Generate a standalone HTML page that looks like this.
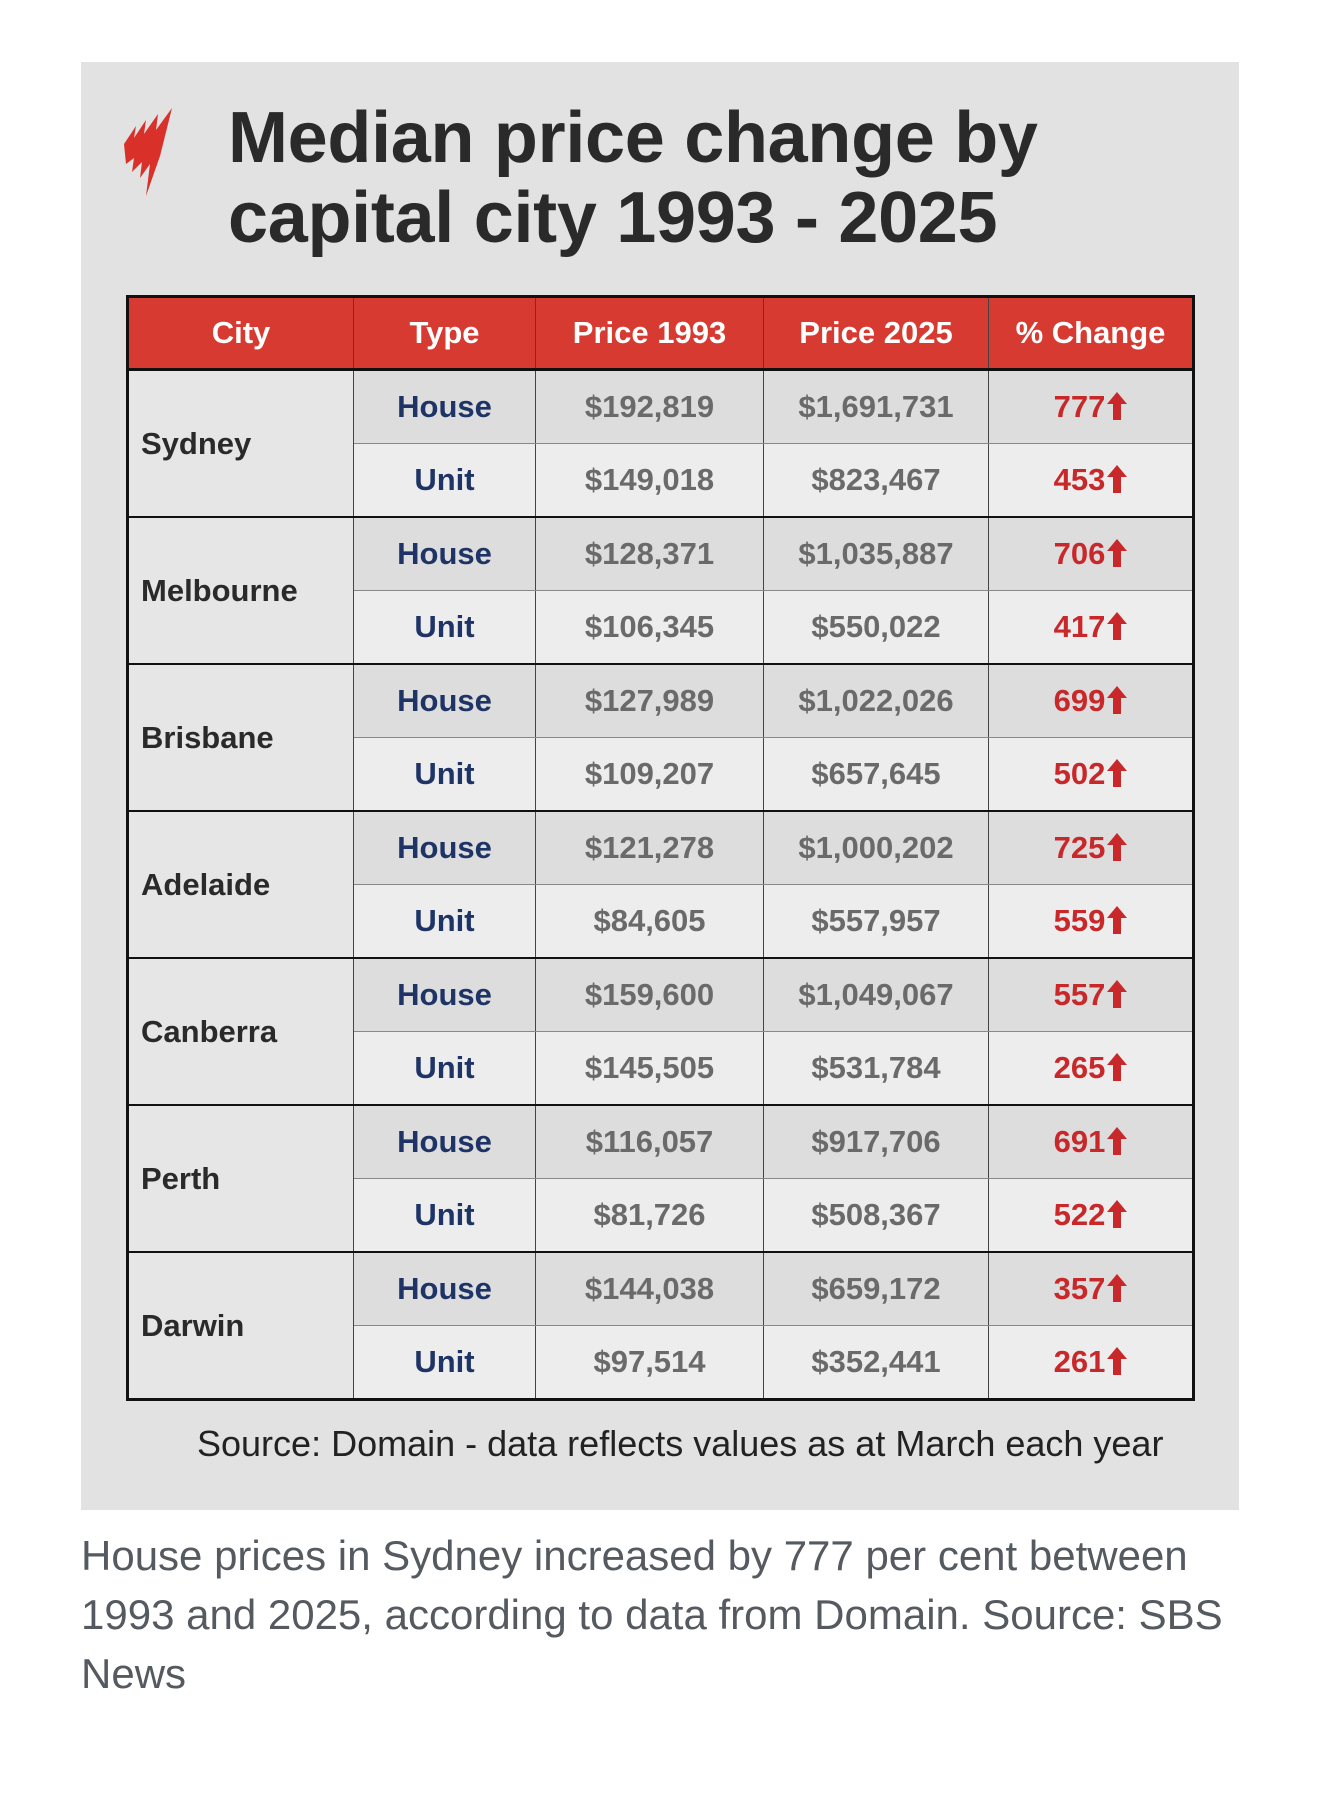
<!DOCTYPE html>
<html><head><meta charset="utf-8"><style>
html,body{margin:0;padding:0;background:#fff;width:1320px;height:1794px;overflow:hidden;position:relative;font-family:"Liberation Sans",sans-serif;}
.box{position:absolute;left:81px;top:62px;width:1158px;height:1448px;background:#e2e2e2;}
.title{position:absolute;left:228px;top:98px;font-weight:bold;font-size:72px;line-height:80px;color:#2a2a2a;letter-spacing:-0.3px;}
table{position:absolute;left:126px;top:295px;border-collapse:collapse;border:3px solid #111;}
td,th{padding:0;text-align:center;font-weight:bold;font-size:31px;height:72px;border-left:1.5px solid #444;border-right:1.5px solid #444;}
th{background:#d63a31;color:#fff;border-bottom:3px solid #111;height:70px;}
td.c{text-align:left;padding-left:12px;color:#2a2a2a;background:#e6e6e6;}
tr.h td{background:#dddddd;border-bottom:1px solid #888;}
tr.u td{background:#ededed;border-bottom:2.5px solid #111;}
tr.h td.c{border-bottom:2.5px solid #111;background:#e6e6e6;}
.t{color:#1f3466;} .p{color:#6a6a6a;} .r{color:#c8282a;}
.ar{display:inline-block;vertical-align:-3px;margin-left:2px;}
.src{position:absolute;left:197px;top:1423px;font-size:36px;color:#222;}
.cap{position:absolute;left:81px;top:1526px;width:1192px;font-size:42px;line-height:59px;color:#555a60;}
</style></head><body>
<div class="box"></div>
<svg style="position:absolute;left:120px;top:108px" width="66" height="92" viewBox="0 0 66 92">
<path d="M4 36 L16 18 L14 30 L26 12 L24 26 L38 6 L36 22 L52 0 L40 48 L26 88 L30 56 L20 70 L22 54 L12 64 L14 50 L6 56 Z" fill="#d9302a"/>
</svg>
<div class="title">Median price change by<br>capital city 1993 - 2025</div>
<table>
<tr><th style="width:224px">City</th><th style="width:181px">Type</th><th style="width:227px">Price 1993</th><th style="width:224px">Price 2025</th><th style="width:203px">% Change</th></tr>
<tr class="h"><td class="c" rowspan="2">Sydney</td><td class="t">House</td><td class="p">$192,819</td><td class="p">$1,691,731</td><td class="r">777<svg class="ar" width="20" height="28" viewBox="0 0 20 28"><path d="M10 0 L20 12 L14 12 L14 28 L6 28 L6 12 L0 12Z" fill="#c8282a"/></svg></td></tr>
<tr class="u"><td class="t">Unit</td><td class="p">$149,018</td><td class="p">$823,467</td><td class="r">453<svg class="ar" width="20" height="28" viewBox="0 0 20 28"><path d="M10 0 L20 12 L14 12 L14 28 L6 28 L6 12 L0 12Z" fill="#c8282a"/></svg></td></tr>
<tr class="h"><td class="c" rowspan="2">Melbourne</td><td class="t">House</td><td class="p">$128,371</td><td class="p">$1,035,887</td><td class="r">706<svg class="ar" width="20" height="28" viewBox="0 0 20 28"><path d="M10 0 L20 12 L14 12 L14 28 L6 28 L6 12 L0 12Z" fill="#c8282a"/></svg></td></tr>
<tr class="u"><td class="t">Unit</td><td class="p">$106,345</td><td class="p">$550,022</td><td class="r">417<svg class="ar" width="20" height="28" viewBox="0 0 20 28"><path d="M10 0 L20 12 L14 12 L14 28 L6 28 L6 12 L0 12Z" fill="#c8282a"/></svg></td></tr>
<tr class="h"><td class="c" rowspan="2">Brisbane</td><td class="t">House</td><td class="p">$127,989</td><td class="p">$1,022,026</td><td class="r">699<svg class="ar" width="20" height="28" viewBox="0 0 20 28"><path d="M10 0 L20 12 L14 12 L14 28 L6 28 L6 12 L0 12Z" fill="#c8282a"/></svg></td></tr>
<tr class="u"><td class="t">Unit</td><td class="p">$109,207</td><td class="p">$657,645</td><td class="r">502<svg class="ar" width="20" height="28" viewBox="0 0 20 28"><path d="M10 0 L20 12 L14 12 L14 28 L6 28 L6 12 L0 12Z" fill="#c8282a"/></svg></td></tr>
<tr class="h"><td class="c" rowspan="2">Adelaide</td><td class="t">House</td><td class="p">$121,278</td><td class="p">$1,000,202</td><td class="r">725<svg class="ar" width="20" height="28" viewBox="0 0 20 28"><path d="M10 0 L20 12 L14 12 L14 28 L6 28 L6 12 L0 12Z" fill="#c8282a"/></svg></td></tr>
<tr class="u"><td class="t">Unit</td><td class="p">$84,605</td><td class="p">$557,957</td><td class="r">559<svg class="ar" width="20" height="28" viewBox="0 0 20 28"><path d="M10 0 L20 12 L14 12 L14 28 L6 28 L6 12 L0 12Z" fill="#c8282a"/></svg></td></tr>
<tr class="h"><td class="c" rowspan="2">Canberra</td><td class="t">House</td><td class="p">$159,600</td><td class="p">$1,049,067</td><td class="r">557<svg class="ar" width="20" height="28" viewBox="0 0 20 28"><path d="M10 0 L20 12 L14 12 L14 28 L6 28 L6 12 L0 12Z" fill="#c8282a"/></svg></td></tr>
<tr class="u"><td class="t">Unit</td><td class="p">$145,505</td><td class="p">$531,784</td><td class="r">265<svg class="ar" width="20" height="28" viewBox="0 0 20 28"><path d="M10 0 L20 12 L14 12 L14 28 L6 28 L6 12 L0 12Z" fill="#c8282a"/></svg></td></tr>
<tr class="h"><td class="c" rowspan="2">Perth</td><td class="t">House</td><td class="p">$116,057</td><td class="p">$917,706</td><td class="r">691<svg class="ar" width="20" height="28" viewBox="0 0 20 28"><path d="M10 0 L20 12 L14 12 L14 28 L6 28 L6 12 L0 12Z" fill="#c8282a"/></svg></td></tr>
<tr class="u"><td class="t">Unit</td><td class="p">$81,726</td><td class="p">$508,367</td><td class="r">522<svg class="ar" width="20" height="28" viewBox="0 0 20 28"><path d="M10 0 L20 12 L14 12 L14 28 L6 28 L6 12 L0 12Z" fill="#c8282a"/></svg></td></tr>
<tr class="h"><td class="c" rowspan="2">Darwin</td><td class="t">House</td><td class="p">$144,038</td><td class="p">$659,172</td><td class="r">357<svg class="ar" width="20" height="28" viewBox="0 0 20 28"><path d="M10 0 L20 12 L14 12 L14 28 L6 28 L6 12 L0 12Z" fill="#c8282a"/></svg></td></tr>
<tr class="u"><td class="t">Unit</td><td class="p">$97,514</td><td class="p">$352,441</td><td class="r">261<svg class="ar" width="20" height="28" viewBox="0 0 20 28"><path d="M10 0 L20 12 L14 12 L14 28 L6 28 L6 12 L0 12Z" fill="#c8282a"/></svg></td></tr>
</table>
<div class="src">Source: Domain - data reflects values as at March each year</div>
<div class="cap">House prices in Sydney increased by 777 per cent between 1993 and 2025, according to data from Domain. Source: SBS News</div>
</body></html>
